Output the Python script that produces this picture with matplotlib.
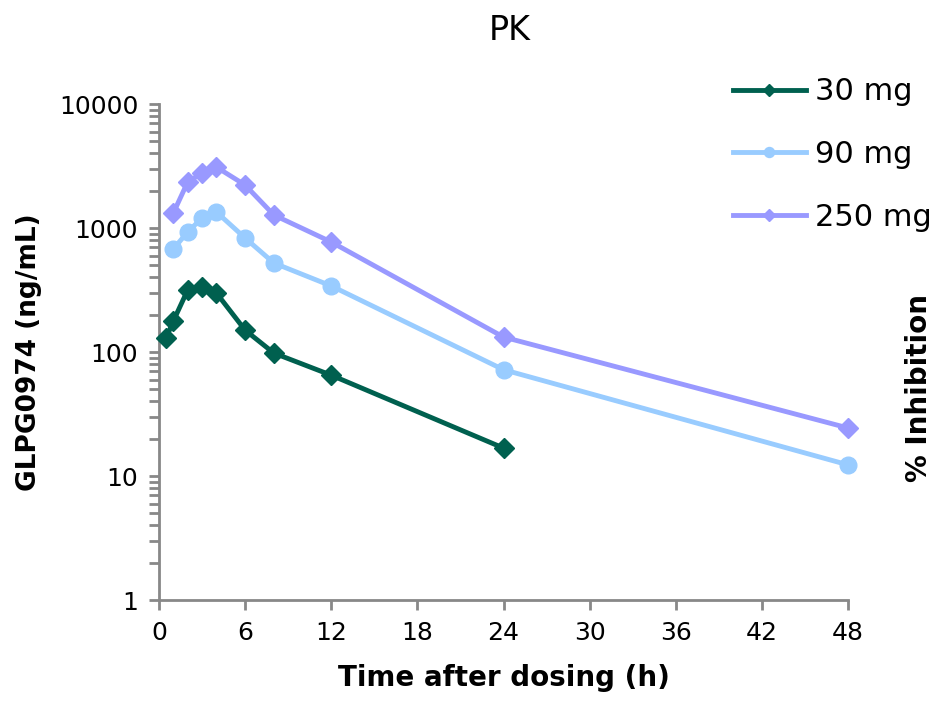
import matplotlib
matplotlib.use("Agg")
import matplotlib.pyplot as plt
from matplotlib.ticker import LogLocator, NullFormatter

# Time points (h) and concentrations (ng/mL)
time_30 = [0.5, 1, 2, 3, 4, 6, 8, 12, 24]
conc_30 = [130, 178, 316, 335, 299, 150, 98, 65, 16.8]

time_90 = [1, 2, 3, 4, 6, 8, 12, 24, 48]
conc_90 = [678, 929, 1205, 1346, 830, 522, 341, 72, 12.3]

time_250 = [1, 2, 3, 4, 6, 8, 12, 24, 48]
conc_250 = [1322, 2350, 2780, 3100, 2220, 1273, 771, 132, 24.4]

x_ticks = [0, 6, 12, 18, 24, 30, 36, 42, 48]
y_ticks = [1, 10, 100, 1000, 10000]

plt.rcParams['font.family'] = ['DejaVu Sans']

fig = plt.figure(figsize=(9.36, 7.14), dpi=100)
ax = fig.add_axes([159 / 936, 1 - 600 / 714, (848 - 159) / 936, (600 - 104) / 714])

ax.plot(time_30, conc_30, color='#00604F', marker='D', markersize=10, linewidth=3.5,
        label='30 mg', clip_on=False, zorder=3)
ax.plot(time_90, conc_90, color='#99CCFF', marker='o', markersize=12, linewidth=3.5,
        label='90 mg', clip_on=False, zorder=3)
ax.plot(time_250, conc_250, color='#9999FF', marker='D', markersize=10, linewidth=3.5,
        label='250 mg', clip_on=False, zorder=3)

ax.set_yscale('log')
ax.set_xlim(0, 48)
ax.set_ylim(1, 10000)
ax.set_xticks(x_ticks)
ax.set_yticks(y_ticks)
ax.set_yticklabels([str(v) for v in y_ticks])
ax.yaxis.set_minor_locator(LogLocator(base=10, subs=range(2, 10)))
ax.yaxis.set_minor_formatter(NullFormatter())

for s in ['top', 'right']:
    ax.spines[s].set_visible(False)
for s in ['left', 'bottom']:
    ax.spines[s].set_color('#888888')
    ax.spines[s].set_linewidth(2)

ax.tick_params(axis='both', which='major', length=7, width=2, color='#888888', labelsize=18, pad=8)
ax.tick_params(axis='y', which='minor', length=7, width=2, color='#888888')

ax.set_xlabel('Time after dosing (h)', fontsize=20, fontweight='bold', labelpad=14)
ax.set_ylabel('GLPG0974 (ng/mL)', fontsize=19, fontweight='bold', labelpad=12)

fig.text(510 / 936, 1 - 30 / 714, 'PK', fontsize=24, ha='center', va='center')
fig.text(905 / 936, 1 - 482 / 714, '% Inhibition', fontsize=20, fontweight='bold',
         rotation=90, ha='left', va='bottom')

leg = ax.legend(loc='upper left', bbox_to_anchor=(705 / 936, 1 - 50 / 714),
                bbox_transform=fig.transFigure, frameon=False,
                handlelength=2.4, markerscale=0.6, labelspacing=1.1,
                handletextpad=0.3, prop={'size': 22})

fig.savefig('out.png', dpi=100)
